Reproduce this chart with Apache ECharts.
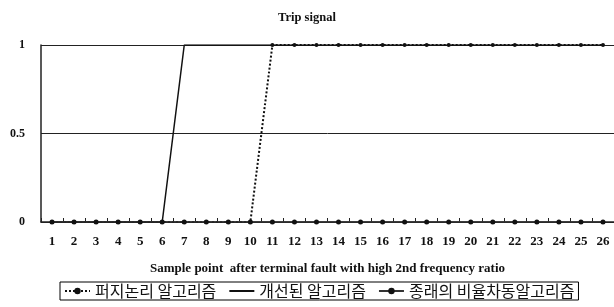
<!DOCTYPE html>
<html>
<head>
<meta charset="utf-8">
<script src="https://cdn.jsdelivr.net/npm/echarts@6/dist/echarts.min.js"></script>
<style>
  html, body { margin: 0; padding: 0; background: #fff; }
  #chart { width: 614px; height: 307px; }
</style>
</head>
<body>
<div id="chart"></div>
<script>
const samples = ['1','2','3','4','5','6','7','8','9','10','11','12','13','14','15','16','17','18','19','20','21','22','23','24','25','26']
const fuzzy = [0,0,0,0,0,0,0,0,0,0,1,1,1,1,1,1,1,1,1,1,1,1,1,1,1,1]
const improved = [0,0,0,0,0,0,1,1,1,1,1,1,1,1,1,1,1,1,1,1,1,1,1,1,1,1]
const conventional = [0,0,0,0,0,0,0,0,0,0,0,0,0,0,0,0,0,0,0,0,0,0,0,0,0,0]
const names = ['퍼지논리 알고리즘', '개선된 알고리즘', '종래의 비율차동알고리즘']

const serif = '"Liberation Serif", "DejaVu Serif", serif'
const charts = echarts.init(document.getElementById('chart'))
charts.setOption({
  backgroundColor: '#fff',
  animation: false,
  title: {
    text: 'Trip signal',
    left: 'center',
    top: 6,
    textStyle: { fontFamily: serif, fontSize: 12.5, fontWeight: 'bold', color: '#111' },
  },
  legend: {
    data: [
      { name: names[0] },
      // plain line in the legend, no dot
      { name: names[1], itemStyle: { color: 'rgba(0,0,0,0)', borderWidth: 0 } },
      { name: names[2] },
    ],
    left: 60,
    top: 282,
    padding: [1, 4, 1, 4],
    itemGap: 12,
    itemWidth: 25,
    itemHeight: 8,
    borderColor: '#000',
    borderWidth: 1,
    textStyle: { fontFamily: '"Noto Sans CJK KR", sans-serif', fontSize: 16, color: '#111' },
  },
  grid: { left: 41, right: -1, top: 45, bottom: 85 },
  xAxis: {
    type: 'category',
    data: samples,
    name: 'Sample point  after terminal fault with high 2nd frequency ratio',
    nameLocation: 'middle',
    nameGap: 40,
    nameTextStyle: { fontFamily: serif, fontSize: 13, fontWeight: 'bold', color: '#111' },
    axisLine: { lineStyle: { color: '#222', width: 1.5 } },
    axisTick: { show: true, inside: true, length: 4, lineStyle: { color: '#222' } },
    axisLabel: { fontFamily: serif, fontSize: 13, fontWeight: 'bold', color: '#111', margin: 13 },
  },
  yAxis: {
    type: 'value',
    min: 0,
    max: 1,
    interval: 0.5,
    axisLine: { show: true, lineStyle: { color: '#222', width: 1.5 } },
    axisTick: { show: false },
    splitLine: { show: true, lineStyle: { color: '#222', width: 1 } },
    axisLabel: { fontFamily: serif, fontSize: 12, fontWeight: 'bold', color: '#111', margin: 16 },
  },
  series: [
    {
      name: names[0],
      type: 'line',
      data: fuzzy,
      symbol: 'circle',
      symbolSize: 4,
      itemStyle: { color: '#111' },
      lineStyle: { type: 'dotted', width: 2, color: '#111' },
    },
    {
      name: names[1],
      type: 'line',
      data: improved,
      symbol: 'none',
      itemStyle: { color: '#111' },
      lineStyle: { width: 1.5, color: '#111' },
    },
    {
      name: names[2],
      type: 'line',
      data: conventional,
      symbol: 'circle',
      symbolSize: 5,
      itemStyle: { color: '#111' },
      lineStyle: { width: 1.5, color: '#333' },
    },
  ],
})
</script>
</body>
</html>
